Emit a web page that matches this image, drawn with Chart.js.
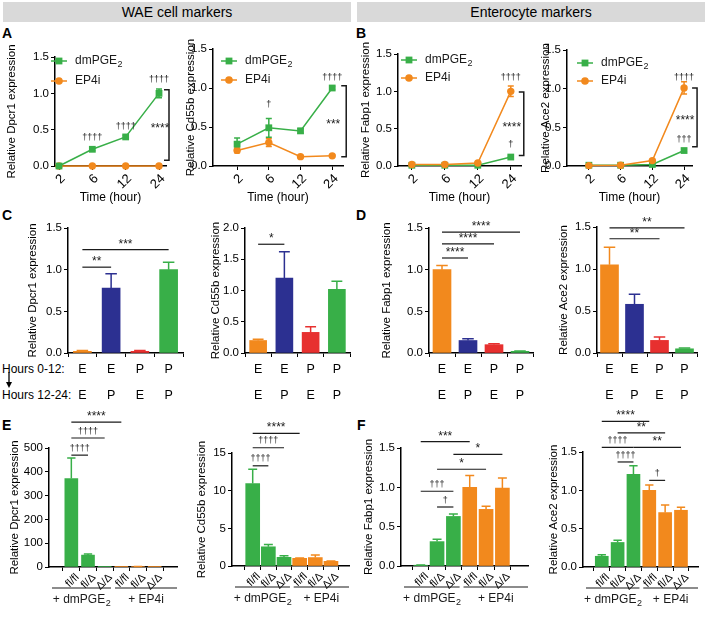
<!DOCTYPE html>
<html>
<head>
<meta charset="utf-8">
<script src="https://cdn.jsdelivr.net/npm/chart.js@4.4.1/dist/chart.umd.min.js"></script>
<style>
  body { margin: 0; background: #fff; width: 708px; height: 617px; position: relative; overflow: hidden;
         font-family: "Liberation Sans", Arial, Helvetica, sans-serif; color: #000; }
  canvas { position: absolute; }
  .hdr { position: absolute; top: 2px; height: 20px; background: #d9d9d9; font-size: 14px; line-height: 20px; text-align: center; }
  .lt { position: absolute; font-weight: bold; font-size: 14px; line-height: 14px; }
  .txt { position: absolute; font-size: 12px; line-height: 14px; white-space: nowrap; }
</style>
</head>
<body>
<div class="hdr" style="left:3px;width:348px">WAE cell markers</div>
<div class="hdr" style="left:357px;width:348px">Enterocyte markers</div>
<div class="lt" style="left:2px;top:26px">A</div>
<div class="lt" style="left:356px;top:26px">B</div>
<div class="lt" style="left:2px;top:208px">C</div>
<div class="lt" style="left:356px;top:208px">D</div>
<div class="lt" style="left:2px;top:418px">E</div>
<div class="lt" style="left:357px;top:418px">F</div>
<div class="txt" style="left:2px;top:362px">Hours 0-12:</div>
<div class="txt" style="left:2px;top:388px">Hours 12-24:</div>
<svg style="position:absolute;left:4px;top:372px" width="10" height="16">
  <line x1="5" y1="0" x2="5" y2="11" stroke="#000" stroke-width="1.3"/>
  <path d="M2 10 L5 16 L8 10 Z" fill="#000"/>
</svg>

<canvas id="a1"></canvas><canvas id="a2"></canvas><canvas id="b1"></canvas><canvas id="b2"></canvas>
<canvas id="c1"></canvas><canvas id="c2"></canvas><canvas id="d1"></canvas><canvas id="d2"></canvas>
<canvas id="e1"></canvas><canvas id="e2"></canvas><canvas id="f1"></canvas><canvas id="f2"></canvas>

<script>
// ---- data ----
const hours = ['2', '6', '12', '24'];
const seriesNames = ['dmPGE₂', 'EP4i'];

const dpcr1Pge = [0.0, 0.23, 0.40, 1.0];
const dpcr1PgeSd = [0.01, 0.02, 0.02, 0.06];
const dpcr1Ep4 = [0.0, 0.0, 0.0, 0.0];
const dpcr1Ep4Sd = [0, 0, 0, 0];

const cd55bPge = [0.28, 0.49, 0.45, 1.0];
const cd55bPgeSd = [0.08, 0.12, 0.03, 0.02];
const cd55bEp4 = [0.20, 0.30, 0.12, 0.13];
const cd55bEp4Sd = [0.03, 0.05, 0.01, 0.01];

const fabp1Pge = [0.01, 0.01, 0.01, 0.12];
const fabp1PgeSd = [0.005, 0.005, 0.005, 0.01];
const fabp1Ep4 = [0.02, 0.02, 0.04, 1.0];
const fabp1Ep4Sd = [0.01, 0.01, 0.01, 0.07];

const ace2Pge = [0.01, 0.01, 0.02, 0.20];
const ace2PgeSd = [0.005, 0.005, 0.01, 0.02];
const ace2Ep4 = [0.005, 0.01, 0.07, 1.01];
const ace2Ep4Sd = [0.003, 0.005, 0.01, 0.08];

const hours0to12 = ['E', 'E', 'P', 'P'];
const hours12to24 = ['E', 'P', 'E', 'P'];
const swDpcr1 = [0.02, 0.78, 0.02, 1.0];
const swDpcr1Sd = [0.01, 0.17, 0.01, 0.09];
const swCd55b = [0.20, 1.20, 0.33, 1.02];
const swCd55bSd = [0.02, 0.42, 0.09, 0.13];
const swFabp1 = [1.0, 0.15, 0.10, 0.02];
const swFabp1Sd = [0.05, 0.02, 0.01, 0.005];
const swAce2 = [1.05, 0.58, 0.15, 0.05];
const swAce2Sd = [0.21, 0.12, 0.04, 0.01];

const genotypes = ['fl/fl', 'fl/Δ', 'Δ/Δ', 'fl/fl', 'fl/Δ', 'Δ/Δ'];
const treatments = ['+ dmPGE₂', '+ EP4i'];
const treatmentSpans = [[0, 2], [3, 5]];
const koDpcr1 = [372, 50, 0.5, 0.5, 2, 0.3];
const koDpcr1Sd = [86, 5, 0, 0, 0.5, 0];
const koCd55b = [10.95, 2.55, 1.15, 1.02, 1.12, 0.62];
const koCd55bSd = [1.9, 0.3, 0.2, 0.03, 0.33, 0.03];
const koFabp1 = [0.01, 0.31, 0.63, 1.0, 0.72, 0.99];
const koFabp1Sd = [0.003, 0.03, 0.03, 0.15, 0.04, 0.13];
const koAce2 = [0.14, 0.32, 1.21, 1.0, 0.71, 0.74];
const koAce2Sd = [0.02, 0.03, 0.11, 0.07, 0.10, 0.04];

const ticksUnit = [0, 0.5, 1.0, 1.5];
const ticksTwo = [0, 0.5, 1.0, 1.5, 2.0];
const ticksDpcr1Ko = [0, 100, 200, 300, 400, 500];
const ticksCd55bKo = [0, 5, 10, 15];

// significance: [from, to, height, text] / [index, height, text] / [top, bottom, text]
const markA1 = [[1, 0.40, '††††'], [2, 0.54, '††††'], [3, 1.19, '††††']];
const markA2 = [[1, 0.79, '†'], [3, 1.14, '††††']];
const markB1 = [[3, 0.29, '†'], [3, 1.18, '††††']];
const markB2 = [[3, 0.34, '†††'], [3, 1.14, '††††']];
const bracketA1 = [1.05, 0.08, '****'];
const bracketA2 = [1.03, 0.12, '***'];
const bracketB1 = [0.99, 0.14, '****'];
const bracketB2 = [1.01, 0.25, '****'];
const sigC1 = [[0, 1, 1.03, '**'], [0, 3, 1.24, '***']];
const sigC2 = [[0, 1, 1.74, '*']];
const sigD1 = [[0, 1, 1.14, '****'], [0, 2, 1.31, '****'], [0, 3, 1.45, '****']];
const sigD2 = [[0, 2, 1.36, '**'], [0, 3, 1.49, '**']];
const sigE1 = [[0, 1, 470, '††††'], [0, 2, 542, '††††'], [0, 3, 609, '****']];
const sigE2 = [[0, 1, 13.3, '††††'], [0, 2, 15.7, '††††'], [0, 3, 17.6, '****']];
const sigF1 = [[1, 2, 0.75, '†'], [0, 2, 0.95, '†††'], [1, 4, 1.23, '*'], [2, 5, 1.42, '*'], [0, 3, 1.58, '***']];
const sigF2 = [[3, 4, 1.13, '†'], [1, 2, 1.37, '††††'], [0, 2, 1.56, '††††'], [2, 5, 1.56, '**'], [1, 4, 1.75, '**'], [0, 3, 1.90, '****']];

// ---- styles ----
const FONT = '"Liberation Sans", Arial, Helvetica, sans-serif';
const INK = '#1a1a1a';
const GREEN = '#38af48';
const ORANGE = '#f2891d';
const BLUE = '#2c3091';
const RED = '#e7302f';
const switchColors = [ORANGE, BLUE, RED, GREEN];
const genoColors = [GREEN, GREEN, GREEN, ORANGE, ORANGE, ORANGE];

Chart.defaults.font.family = FONT;
Chart.defaults.color = '#000';

function drawRich(ctx, text, x, y, size, align) {
    const parts = text.split('₂');
    const sub = Math.round(size * 0.72);
    ctx.font = size + 'px ' + FONT;
    const wMain = ctx.measureText(parts[0]).width;
    ctx.font = sub + 'px ' + FONT;
    const wSub = parts.length > 1 ? ctx.measureText('2').width : 0;
    const x0 = align === 'center' ? x - (wMain + wSub) / 2 : x;
    ctx.textAlign = 'left';
    ctx.textBaseline = 'middle';
    ctx.font = size + 'px ' + FONT;
    ctx.fillText(parts[0], x0, y);
    if (parts.length > 1) {
        ctx.font = sub + 'px ' + FONT;
        ctx.fillText('2', x0 + wMain + 0.5, y + size * 0.32);
    }
}

function star(ctx, t, cx, base) {
    ctx.font = (t.includes('*') ? 12 : 9) + 'px ' + FONT;
    ctx.textAlign = 'center';
    ctx.textBaseline = 'alphabetic';
    ctx.fillText(t, cx, base);
}

function marks(m) {
    return {
        id: 'marks',
        beforeDatasetsDraw(chart) {
            const { ctx } = chart;
            const y = chart.scales.y;
            ctx.save();
            chart.data.datasets.forEach((ds, di) => {
                if (!ds.errors) return;
                const meta = chart.getDatasetMeta(di);
                const isBar = meta.type === 'bar';
                meta.data.forEach((el, i) => {
                    const e = ds.errors[i];
                    if (!e) return;
                    const raw = ds.data[i];
                    const v = typeof raw === 'object' ? raw.y : raw;
                    const col = Array.isArray(ds.borderColor) ? ds.borderColor[i] : ds.borderColor;
                    const yHi = y.getPixelForValue(v + e);
                    const yLo = isBar ? el.y : y.getPixelForValue(Math.max(0, v - e));
                    const half = isBar ? el.width * 0.32 : 3;
                    ctx.strokeStyle = col;
                    ctx.lineWidth = 1.5;
                    ctx.beginPath();
                    ctx.moveTo(el.x, yLo); ctx.lineTo(el.x, yHi);
                    ctx.moveTo(el.x - half, yHi); ctx.lineTo(el.x + half, yHi);
                    if (!isBar) { ctx.moveTo(el.x - half, yLo); ctx.lineTo(el.x + half, yLo); }
                    ctx.stroke();
                });
            });
            ctx.restore();
        },
        afterDraw(chart) {
            const { ctx, chartArea: area } = chart;
            const x = chart.scales.x, y = chart.scales.y;
            ctx.save();
            ctx.strokeStyle = INK; ctx.fillStyle = INK; ctx.lineWidth = 1.2;

            (m.sig || []).forEach(([a, b, v, t]) => {
                const x1 = x.getPixelForValue(a), x2 = x.getPixelForValue(b), py = y.getPixelForValue(v);
                ctx.beginPath(); ctx.moveTo(x1, py); ctx.lineTo(x2, py); ctx.stroke();
                star(ctx, t, (x1 + x2) / 2, py - (t.includes('*') ? 2 : 4.4));
            });

            (m.pts || []).forEach(([i, v, t]) => {
                star(ctx, t, x.getPixelForValue(i), y.getPixelForValue(v) + (t.includes('*') ? 7 : 2.6));
            });

            if (m.bracket) {
                const [v1, v2, t] = m.bracket;
                const last = x.getPixelForValue(hours.length - 1);
                const bx = last + m.dx, y1 = y.getPixelForValue(v1), y2 = y.getPixelForValue(v2);
                ctx.lineWidth = 1.5;
                ctx.beginPath();
                ctx.moveTo(bx - 5, y1); ctx.lineTo(bx, y1); ctx.lineTo(bx, y2); ctx.lineTo(bx - 5, y2);
                ctx.stroke();
                star(ctx, t, last + 1, (y1 + y2) / 2 + 7);
            }

            if (m.groups) {
                const gy = area.bottom + 21, ty = area.bottom + 33;
                ctx.lineWidth = 1.2;
                m.groups.forEach(([a, b], k) => {
                    const x1 = k === 0 ? area.left + 3 : x.getPixelForValue(a - 0.38);
                    const x2 = k === m.groups.length - 1 ? area.right : x.getPixelForValue(b + 0.38);
                    ctx.beginPath(); ctx.moveTo(x1, gy); ctx.lineTo(x2, gy); ctx.stroke();
                    drawRich(ctx, treatments[k], (x1 + x2) / 2, ty, 12, 'center');
                });
            }

            if (m.legend) {
                const [lx, ly, gap] = m.legend;
                const ox = lx - m.origin[0], oy = ly - m.origin[1];
                chart.data.datasets.forEach((ds, k) => {
                    const yy = oy + k * gap;
                    ctx.strokeStyle = ds.borderColor; ctx.fillStyle = ds.borderColor; ctx.lineWidth = 1.5;
                    ctx.beginPath(); ctx.moveTo(ox, yy); ctx.lineTo(ox + 16, yy); ctx.stroke();
                    if (ds.pointStyle === 'rect') ctx.fillRect(ox + 8 - 3.4, yy - 3.4, 6.8, 6.8);
                    else { ctx.beginPath(); ctx.arc(ox + 8, yy, 3.8, 0, Math.PI * 2); ctx.fill(); }
                    ctx.fillStyle = INK;
                    drawRich(ctx, ds.label, ox + 24, yy, 12, 'left');
                });
            }
            ctx.restore();
        }
    };
}

const tickGrid = () => ({ drawOnChartArea: false, color: '#000', tickLength: 4, tickWidth: 1 });
const axisLine = () => ({ display: true, color: '#000', width: 1.5 });
const fmt1 = v => v.toFixed(1);
const fmt0 = v => String(v);

function panel(id, g, cfg) {
    const c = document.getElementById(id);
    const left = Math.round(g.titleX - 6.9);
    c.width = g.right - left;
    c.height = g.canvasBottom - g.canvasTop;
    c.style.left = left + 'px';
    c.style.top = g.canvasTop + 'px';
    const yW = g.axisX - left, xH = g.canvasBottom - g.bottom;
    cfg.marks.origin = [left, g.canvasTop];
    const xs = Object.assign(cfg.x, {
        afterFit: s => { s.height = xH; },
        grid: tickGrid(),
        border: axisLine()
    });
    return new Chart(c, {
        type: cfg.type,
        data: { labels: cfg.labels, datasets: cfg.datasets },
        options: {
            responsive: false,
            animation: false,
            events: [],
            layout: { padding: { top: g.top - g.canvasTop, right: g.right - g.axisEnd, left: 0, bottom: 0 } },
            plugins: { legend: { display: false }, tooltip: { enabled: false } },
            scales: {
                x: xs,
                y: {
                    min: 0,
                    max: cfg.yTicks[cfg.yTicks.length - 1],
                    afterBuildTicks: s => { s.ticks = cfg.yTicks.map(v => ({ value: v })); },
                    afterFit: s => { s.width = yW; },
                    ticks: { font: { size: 11.5 }, padding: 2, callback: v => cfg.yFmt(v) },
                    grid: tickGrid(),
                    border: axisLine(),
                    title: { display: true, text: cfg.yTitle, font: { size: 11.5 }, padding: 0 }
                }
            }
        },
        plugins: [marks(cfg.marks)]
    });
}

function timeAxis(g) {
    return {
        type: 'linear', min: g.xMin, max: g.xMax,
        afterBuildTicks: s => { s.ticks = hours.map((_, i) => ({ value: i })); },
        ticks: { font: { size: 13 }, minRotation: 45, maxRotation: 45, padding: 1, labelOffset: 4, autoSkip: false, callback: v => hours[v] },
        title: { display: true, text: 'Time (hour)', font: { size: 12 }, padding: 0 }
    };
}

function genoAxis(g) {
    return {
        type: 'linear', min: g.xMin, max: g.xMax,
        afterBuildTicks: s => { s.ticks = genotypes.map((_, i) => ({ value: i })); },
        ticks: { font: { size: 11 }, minRotation: 45, maxRotation: 45, padding: 0, labelOffset: 6, autoSkip: false, callback: v => genotypes[v] }
    };
}

function switchAxis() {
    return {
        type: 'category', offset: true,
        ticks: { font: { size: 12.5, lineHeight: 26 / 12.5 }, padding: 0, maxRotation: 0, minRotation: 0, autoSkip: false }
    };
}

function timeSets(pge, pgeSd, ep4, ep4Sd, ep4OnTop) {
    const pts = arr => arr.map((v, i) => ({ x: i, y: v }));
    return [
        { label: seriesNames[0], data: pts(pge), errors: pgeSd, borderColor: GREEN, backgroundColor: GREEN,
          pointStyle: 'rect', pointRadius: 4.8, pointBorderWidth: 0, borderWidth: 1.5, clip: false, order: ep4OnTop ? 1 : 0 },
        { label: seriesNames[1], data: pts(ep4), errors: ep4Sd, borderColor: ORANGE, backgroundColor: ORANGE,
          pointStyle: 'circle', pointRadius: 3.7, pointBorderWidth: 0, borderWidth: 1.5, clip: false, order: ep4OnTop ? 0 : 1 }
    ];
}

function barSet(values, sd, colors, thickness, indexed) {
    return [{
        data: indexed ? values.map((v, i) => ({ x: i, y: v })) : values,
        errors: sd,
        backgroundColor: colors, borderColor: colors, borderWidth: 0,
        barThickness: thickness
    }];
}

// ---- geometry of each panel on the page ----
const G = {
    a1: { titleX: 12, axisX: 55, axisEnd: 166, right: 176, top: 57, bottom: 166, canvasTop: 45, canvasBottom: 205, xMin: -0.12, xMax: 3.21 },
    a2: { titleX: 191, axisX: 213, axisEnd: 343, right: 354, top: 49, bottom: 166, canvasTop: 37, canvasBottom: 205, xMin: -0.76, xMax: 3.34 },
    b1: { titleX: 366, axisX: 398, axisEnd: 521, right: 532, top: 54, bottom: 166, canvasTop: 42, canvasBottom: 205, xMin: -0.42, xMax: 3.31 },
    b2: { titleX: 546, axisX: 567, axisEnd: 692, right: 706, top: 50, bottom: 166, canvasTop: 38, canvasBottom: 205, xMin: -0.69, xMax: 3.25 },
    c1: { titleX: 33, axisX: 68, axisEnd: 183, right: 190, top: 228, bottom: 353, canvasTop: 216, canvasBottom: 409 },
    c2: { titleX: 216, axisX: 245, axisEnd: 350, right: 355, top: 228, bottom: 353, canvasTop: 216, canvasBottom: 409 },
    d1: { titleX: 387, axisX: 429, axisEnd: 533, right: 540, top: 228, bottom: 353, canvasTop: 216, canvasBottom: 409 },
    d2: { titleX: 564, axisX: 597, axisEnd: 697, right: 705, top: 227, bottom: 353, canvasTop: 215, canvasBottom: 409 },
    e1: { titleX: 15, axisX: 49, axisEnd: 177, right: 184, top: 448, bottom: 567, canvasTop: 404, canvasBottom: 614, xMin: -0.7, xMax: 5.7 },
    e2: { titleX: 202, axisX: 232, axisEnd: 349, right: 355, top: 453, bottom: 566, canvasTop: 410, canvasBottom: 614, xMin: -0.7, xMax: 5.53 },
    f1: { titleX: 369, axisX: 401, axisEnd: 528, right: 535, top: 448, bottom: 566, canvasTop: 415, canvasBottom: 614, xMin: -0.56, xMax: 5.92 },
    f2: { titleX: 554, axisX: 583, axisEnd: 698, right: 706, top: 452, bottom: 567, canvasTop: 404, canvasBottom: 614, xMin: -0.58, xMax: 5.47 }
};

const switchLabels = hours0to12.map((a, i) => [a, hours12to24[i]]);

// A
panel('a1', G.a1, { type: 'line', x: timeAxis(G.a1), yTicks: ticksUnit, yFmt: fmt1, yTitle: 'Relative Dpcr1 expression',
    datasets: timeSets(dpcr1Pge, dpcr1PgeSd, dpcr1Ep4, dpcr1Ep4Sd, false),
    marks: { pts: markA1, bracket: bracketA1, dx: 10, legend: [51, 61, 20] } });
panel('a2', G.a2, { type: 'line', x: timeAxis(G.a2), yTicks: ticksUnit, yFmt: fmt1, yTitle: 'Relative Cd55b expression',
    datasets: timeSets(cd55bPge, cd55bPgeSd, cd55bEp4, cd55bEp4Sd, false),
    marks: { pts: markA2, bracket: bracketA2, dx: 14, legend: [221, 61, 19] } });
// B
panel('b1', G.b1, { type: 'line', x: timeAxis(G.b1), yTicks: ticksUnit, yFmt: fmt1, yTitle: 'Relative Fabp1 expression',
    datasets: timeSets(fabp1Pge, fabp1PgeSd, fabp1Ep4, fabp1Ep4Sd, true),
    marks: { pts: markB1, bracket: bracketB1, dx: 13, legend: [401, 60, 18] } });
panel('b2', G.b2, { type: 'line', x: timeAxis(G.b2), yTicks: ticksUnit, yFmt: fmt1, yTitle: 'Relative Ace2 expression',
    datasets: timeSets(ace2Pge, ace2PgeSd, ace2Ep4, ace2Ep4Sd, true),
    marks: { pts: markB2, bracket: bracketB2, dx: 13, legend: [577, 63, 18] } });
// C
panel('c1', G.c1, { type: 'bar', labels: switchLabels, x: switchAxis(), yTicks: ticksUnit, yFmt: fmt1, yTitle: 'Relative Dpcr1 expression',
    datasets: barSet(swDpcr1, swDpcr1Sd, switchColors, 18, false), marks: { sig: sigC1 } });
panel('c2', G.c2, { type: 'bar', labels: switchLabels, x: switchAxis(), yTicks: ticksTwo, yFmt: fmt1, yTitle: 'Relative Cd55b expression',
    datasets: barSet(swCd55b, swCd55bSd, switchColors, 17, false), marks: { sig: sigC2 } });
// D
panel('d1', G.d1, { type: 'bar', labels: switchLabels, x: switchAxis(), yTicks: ticksUnit, yFmt: fmt1, yTitle: 'Relative Fabp1 expression',
    datasets: barSet(swFabp1, swFabp1Sd, switchColors, 18, false), marks: { sig: sigD1 } });
panel('d2', G.d2, { type: 'bar', labels: switchLabels, x: switchAxis(), yTicks: ticksUnit, yFmt: fmt1, yTitle: 'Relative Ace2 expression',
    datasets: barSet(swAce2, swAce2Sd, switchColors, 18, false), marks: { sig: sigD2 } });
// E
panel('e1', G.e1, { type: 'bar', x: genoAxis(G.e1), yTicks: ticksDpcr1Ko, yFmt: fmt0, yTitle: 'Relative Dpcr1 expression',
    datasets: barSet(koDpcr1, koDpcr1Sd, genoColors, 13, true), marks: { sig: sigE1, groups: treatmentSpans } });
panel('e2', G.e2, { type: 'bar', x: genoAxis(G.e2), yTicks: ticksCd55bKo, yFmt: fmt0, yTitle: 'Relative Cd55b expression',
    datasets: barSet(koCd55b, koCd55bSd, genoColors, 14, true), marks: { sig: sigE2, groups: treatmentSpans } });
// F
panel('f1', G.f1, { type: 'bar', x: genoAxis(G.f1), yTicks: ticksUnit, yFmt: fmt1, yTitle: 'Relative Fabp1 expression',
    datasets: barSet(koFabp1, koFabp1Sd, genoColors, 14, true), marks: { sig: sigF1, groups: treatmentSpans } });
panel('f2', G.f2, { type: 'bar', x: genoAxis(G.f2), yTicks: ticksUnit, yFmt: fmt1, yTitle: 'Relative Ace2 expression',
    datasets: barSet(koAce2, koAce2Sd, genoColors, 13, true), marks: { sig: sigF2, groups: treatmentSpans } });
</script>
</body>
</html>
